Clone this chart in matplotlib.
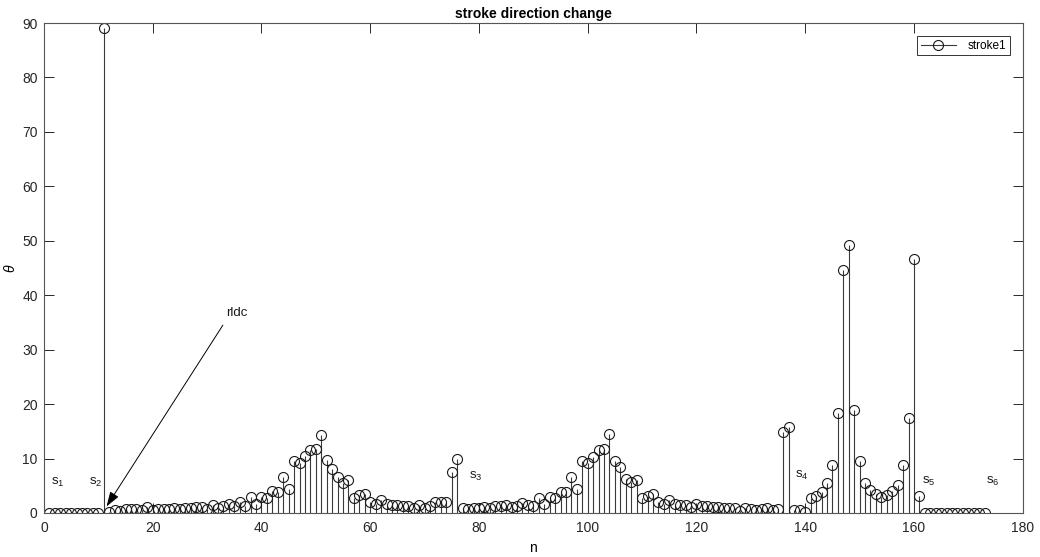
import numpy as np
import matplotlib
matplotlib.use("Agg")
import matplotlib.pyplot as plt
from matplotlib.legend_handler import HandlerLine2D
from matplotlib.lines import Line2D

plt.rcParams['font.family'] = ['Liberation Sans', 'DejaVu Sans']
plt.rcParams['mathtext.fontset'] = 'custom'
plt.rcParams['mathtext.rm'] = 'Liberation Sans'
plt.rcParams['mathtext.it'] = 'Liberation Sans:italic'

# ---- data ----
theta = [
    0, 0, 0, 0, 0, 0, 0, 0, 0, 0,                          # 1-10
    89.0, 0.1, 0.6, 0.3, 0.7, 0.8, 0.8, 0.6, 1.1, 0.6,     # 11-20
    0.8, 0.7, 0.8, 1.0, 0.7, 1.0, 1.0, 1.1, 1.1, 0.8,      # 21-30
    1.5, 1.0, 1.3, 1.6, 1.3, 2.0, 1.3, 2.9, 1.7, 3.0,      # 31-40
    2.7, 4.0, 3.9, 6.7, 4.4, 9.6, 9.1, 10.4, 11.5, 11.8,   # 41-50
    14.4, 9.7, 8.0, 6.6, 5.6, 6.0, 2.7, 3.3, 3.5, 2.1,     # 51-60
    1.7, 2.4, 1.6, 1.4, 1.5, 1.2, 1.3, 0.9, 1.4, 1.0,      # 61-70
    1.2, 2.0, 2.0, 2.0, 7.5, 9.9, 0.9, 0.7, 1.0, 1.0,      # 71-80
    1.1, 1.0, 1.2, 1.2, 1.4, 1.1, 1.3, 1.8, 1.5, 1.3,      # 81-90
    2.7, 1.6, 2.9, 2.7, 3.9, 3.9, 6.7, 4.4, 9.6, 9.1,      # 91-100
    10.3, 11.5, 11.8, 14.5, 9.5, 8.5, 6.2, 5.7, 6.0, 2.7,  # 101-110
    3.2, 3.5, 2.0, 1.7, 2.4, 1.7, 1.5, 1.5, 1.1, 1.6,      # 111-120
    1.2, 1.2, 1.1, 1.1, 1.0, 1.0, 1.0, 0.3, 1.0, 0.7,      # 121-130
    0.5, 0.7, 0.85, 0.6, 0.7, 14.9, 15.8, 0.5, 0.5, 0.1,   # 131-140
    2.8, 3.2, 3.9, 5.5, 8.8, 18.4, 44.7, 49.3, 19.0, 9.6,  # 141-150
    5.5, 4.2, 3.5, 2.9, 3.3, 4.0, 5.1, 8.8, 17.5, 46.6,    # 151-160
    3.2, 0, 0, 0, 0, 0, 0, 0, 0, 0,                        # 161-170
    0, 0, 0,                                               # 171-173
]
n = np.arange(1, len(theta) + 1)

seg_labels = [r'$\mathrm{s}_1$', r'$\mathrm{s}_2$', r'$\mathrm{s}_3$',
              r'$\mathrm{s}_4$', r'$\mathrm{s}_5$', r'$\mathrm{s}_6$']
seg_x = [1.3, 8.3, 78.1, 138.2, 161.4, 173.2]
seg_y = [5.6, 5.6, 6.8, 6.9, 5.8, 5.8]

x_ticks = list(range(0, 181, 20))
y_ticks = list(range(0, 91, 10))
series_name = 'stroke1'
title = 'stroke direction change'

# ---- figure ----
fig = plt.figure(figsize=(10.4, 5.57), dpi=100)
ax = fig.add_axes([0.0423, 0.079, 0.9411, 0.8797])

stem_col = '#3a3a3a'
mk, st, bl = ax.stem(n, theta, basefmt=' ')
plt.setp(st, color=stem_col, linewidth=0.8)
plt.setp(mk, marker='o', markersize=7.2, markerfacecolor='none',
         markeredgecolor='#1a1a1a', markeredgewidth=0.8)

ax.set_xlim(0, 180)
ax.set_ylim(0, 90)
ax.set_xticks(x_ticks)
ax.set_yticks(y_ticks)
ax.tick_params(direction='in', length=7.5, width=0.7, top=True, right=True,
               labelsize=10, colors='#262626')
ax.tick_params(axis='x', pad=5.5)
ax.tick_params(axis='y', pad=4.5)
for s in ax.spines.values():
    s.set_color('#555555')
    s.set_linewidth(0.8)

ax.set_title(title, fontsize=10, fontweight='bold', pad=3.5)
ax.set_xlabel('n', fontsize=10)
ax.set_ylabel(r'$\theta$', fontsize=10)
ax.xaxis.set_label_coords(0.5, -0.058)
ax.yaxis.set_label_coords(-0.027, 0.5)

for lab, x, y in zip(seg_labels, seg_x, seg_y):
    ax.text(x, y, lab, fontsize=9.5, ha='left', va='center', color='#1a1a1a')

ax.annotate('', xy=(11.5, 1.2), xytext=(32.9, 34.5),
            arrowprops=dict(arrowstyle='-|>,head_length=0.9,head_width=0.3',
                            color='black', lw=0.7, shrinkA=0, shrinkB=0))
ax.text(33.5, 36.7, 'rldc', fontsize=9.5, ha='left', va='center', color='#1a1a1a')


class EndMarkerHandler(HandlerLine2D):
    def get_xdata(self, legend, xdescent, ydescent, width, height, fontsize):
        xdata = np.array([-xdescent, -xdescent + width])
        return xdata, np.array([-xdescent + width])


proxy = Line2D([], [], color=stem_col, lw=0.8, marker='o', markersize=7.2,
               markerfacecolor='none', markeredgecolor='#1a1a1a',
               markeredgewidth=0.8)
leg = ax.legend([proxy], [series_name], loc='upper right',
                bbox_to_anchor=(0.987, 0.973), borderaxespad=0,
                fontsize=8.5, fancybox=False, framealpha=1, edgecolor='#333333',
                handlelength=3.0, handletextpad=1.0, borderpad=0.3,
                numpoints=1, handler_map={Line2D: EndMarkerHandler()})
leg.get_frame().set_linewidth(0.7)

fig.savefig('out.png', dpi=100)
